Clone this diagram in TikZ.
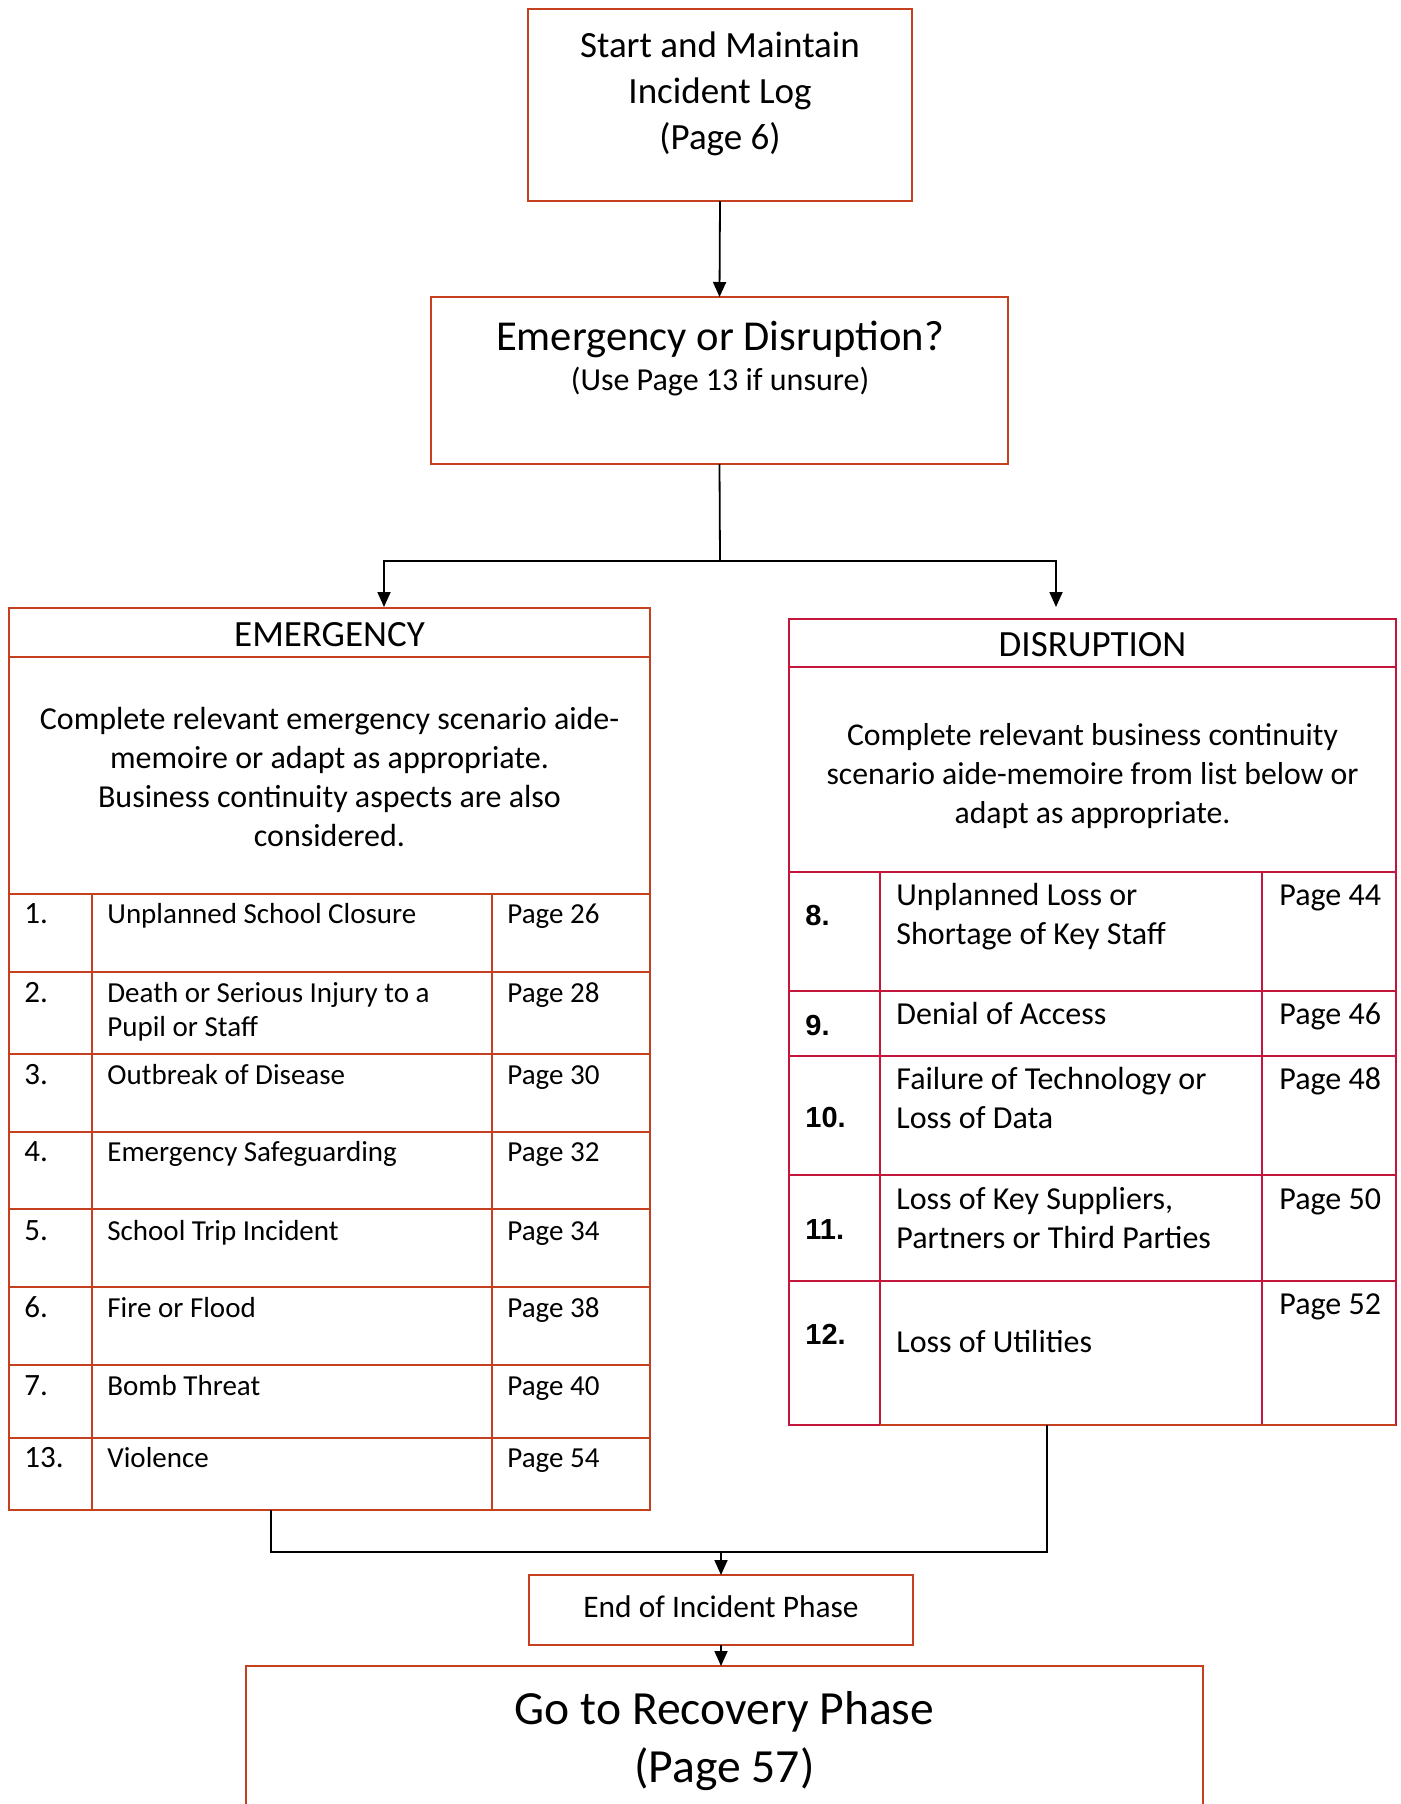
\documentclass[tikz,border=0pt]{standalone}
\usepackage{fontspec}
\setmainfont{Carlito}
\newfontfamily\arl{Liberation Sans}
\usetikzlibrary{arrows.meta}
\definecolor{emred}{RGB}{197,64,30}
\definecolor{disred}{RGB}{196,22,60}
\newcommand{\fsz}[2]{\fontsize{#1}{#2}\selectfont}
\begin{document}
\begin{tikzpicture}[x=0.5pt,y=-0.5pt,
  ebox/.style={draw=emred,line width=1.1pt,inner sep=0,outer sep=0},
  dbox/.style={draw=disred,line width=1.1pt,inner sep=0,outer sep=0},
  egrid/.style={draw=emred,line width=1.1pt},
  dgrid/.style={draw=disred,line width=1.1pt},
  conn/.style={draw=black,line width=0.9pt},
  arr/.style={conn,-{Triangle[length=7.5pt,width=6.5pt]}},
  etxt/.style={inner sep=0,anchor=base west,font=\fsz{14.5}{17.5}},
  enum/.style={inner sep=0,anchor=base west,font=\fsz{15.5}{18}},
  dtxt/.style={inner sep=0,anchor=base west,font=\fsz{16}{19.5}},
  dnum/.style={inner sep=0,anchor=base west,font=\arl\bfseries\fsz{14.5}{17}},
]
\useasboundingbox (0,0) rectangle (1401,1804);

% boxes
\node[ebox,minimum width=192pt,minimum height=96pt] (start) at (720,105) {};
\node[ebox,minimum width=288.5pt,minimum height=83.5pt] (quest) at (719.5,380.5) {};
\node[ebox,minimum width=320.5pt,minimum height=451pt] (emer) at (329.5,1059) {};
\node[dbox,minimum width=303.5pt,minimum height=403pt] (disr) at (1092.5,1022) {};
\node[ebox,minimum width=192pt,minimum height=35pt] (endp) at (721,1610) {};
\node[ebox,minimum width=478.5pt,minimum height=82pt] (reco) at (724.5,1748) {};

% emergency grid
\draw[egrid] (9,657) -- (650,657);
\foreach \yy in {894,972,1054,1132,1209,1287,1365,1438}
  \draw[egrid] (9,\yy) -- (650,\yy);
\draw[egrid] (92,894) -- (92,1510);
\draw[egrid] (492,894) -- (492,1510);

% disruption grid
\draw[dgrid] (789,667) -- (1396,667);
\foreach \yy in {872,991,1056,1175,1281}
  \draw[dgrid] (789,\yy) -- (1396,\yy);
\draw[dgrid] (880,872) -- (880,1425);
\draw[dgrid] (1262,872) -- (1262,1425);
\draw[egrid] (880,1425) -- (1396,1425);

% texts top
\node[inner sep=0,align=center,font=\fsz{18.5}{23}] (t1) at (720,94) {Start and Maintain\\Incident Log\\(Page 6)};
\node[inner sep=0,anchor=base,font=\fsz{21.3}{26}] (q1) at (720,350) {Emergency or Disruption?};
\node[inner sep=0,anchor=base,font=\fsz{16}{19}] (q2) at (720,390) {(Use Page 13 if unsure)};

% emergency texts
\node[inner sep=0,font=\fsz{18.5}{22}] (ehead) at (329.5,635) {EMERGENCY};
\node[inner sep=0,align=center,font=\fsz{16}{19.5}] (edesc) at (329.5,777) {Complete relevant emergency scenario aide-\\memoire or adapt as appropriate.\\Business continuity aspects are also\\considered.};

\node[enum] (en1) at (24,923) {1.};
\node[etxt] (et1) at (107,923) {Unplanned School Closure};
\node[etxt] (ep1) at (507,923) {Page 26};
\node[enum] (en2) at (24,1002) {2.};
\node[etxt] (et2) at (107,1002) {Death or Serious Injury to a};
\node[etxt] (et2b) at (107,1036) {Pupil or Staff};
\node[etxt] (ep2) at (507,1002) {Page 28};
\node[enum] (en3) at (24,1084) {3.};
\node[etxt] (et3) at (107,1084) {Outbreak of Disease};
\node[etxt] (ep3) at (507,1084) {Page 30};
\node[enum] (en4) at (24,1161) {4.};
\node[etxt] (et4) at (107,1161) {Emergency Safeguarding};
\node[etxt] (ep4) at (507,1161) {Page 32};
\node[enum] (en5) at (24,1240) {5.};
\node[etxt] (et5) at (107,1240) {School Trip Incident};
\node[etxt] (ep5) at (507,1240) {Page 34};
\node[enum] (en6) at (24,1317) {6.};
\node[etxt] (et6) at (107,1317) {Fire or Flood};
\node[etxt] (ep6) at (507,1317) {Page 38};
\node[enum] (en7) at (24,1395) {7.};
\node[etxt] (et7) at (107,1395) {Bomb Threat};
\node[etxt] (ep7) at (507,1395) {Page 40};
\node[enum] (en8) at (24,1467) {13.};
\node[etxt] (et8) at (107,1467) {Violence};
\node[etxt] (ep8) at (507,1467) {Page 54};

% disruption texts
\node[inner sep=0,font=\fsz{18.5}{22}] (dhead) at (1092.5,645) {DISRUPTION};
\node[inner sep=0,align=center,font=\fsz{15.85}{19.5}] (ddesc) at (1092.5,776) {Complete relevant business continuity\\scenario aide-memoire from list below or\\adapt as appropriate.};

\node[dnum] (dn8) at (805,925) {8.};
\node[dtxt] (dt8) at (896,905) {Unplanned Loss or};
\node[dtxt] (dt8b) at (896,944) {Shortage of Key Staff};
\node[dtxt] (dp8) at (1279,905) {Page 44};
\node[dnum] (dn9) at (805,1035) {9.};
\node[dtxt] (dt9) at (896,1024) {Denial of Access};
\node[dtxt] (dp9) at (1279,1024) {Page 46};
\node[dnum] (dn10) at (805,1127) {10.};
\node[dtxt] (dt10) at (896,1089) {Failure of Technology or};
\node[dtxt] (dt10b) at (896,1128) {Loss of Data};
\node[dtxt] (dp10) at (1279,1089) {Page 48};
\node[dnum] (dn11) at (805,1239) {11.};
\node[dtxt] (dt11) at (896,1209) {Loss of Key Suppliers,};
\node[dtxt] (dt11b) at (896,1248) {Partners or Third Parties};
\node[dtxt] (dp11) at (1279,1209) {Page 50};
\node[dnum] (dn12) at (805,1344) {12.};
\node[dtxt] (dt12) at (896,1352) {Loss of Utilities};
\node[dtxt] (dp12) at (1279,1314) {Page 52};

% bottom texts
\node[inner sep=0,font=\fsz{15.7}{18.5}] (endt) at (721,1607) {End of Incident Phase};
\node[inner sep=0,align=center,font=\fsz{23.8}{29}] (recot) at (724.5,1741) {Go to Recovery Phase\\(Page 57)};

% connectors
\coordinate (split) at (720,561);
\coordinate (etip) at (384,607);
\coordinate (dtip) at (1056,607);
\coordinate (ebot) at (271,1510);
\coordinate (dbot) at (1047,1425);
\coordinate (join) at (721,1552);
\draw[arr] (start.south) -- (quest.north);
\draw[conn] (quest.south) -- (split);
\draw[arr] (split) -| (etip);
\draw[arr] (split) -| (dtip);
\draw[conn] (ebot) |- (join);
\draw[conn] (dbot) |- (join);
\draw[arr] (join) -- (endp.north);
\draw[arr] (endp.south) -- (endp.south |- reco.north);
\end{tikzpicture}
\end{document}
